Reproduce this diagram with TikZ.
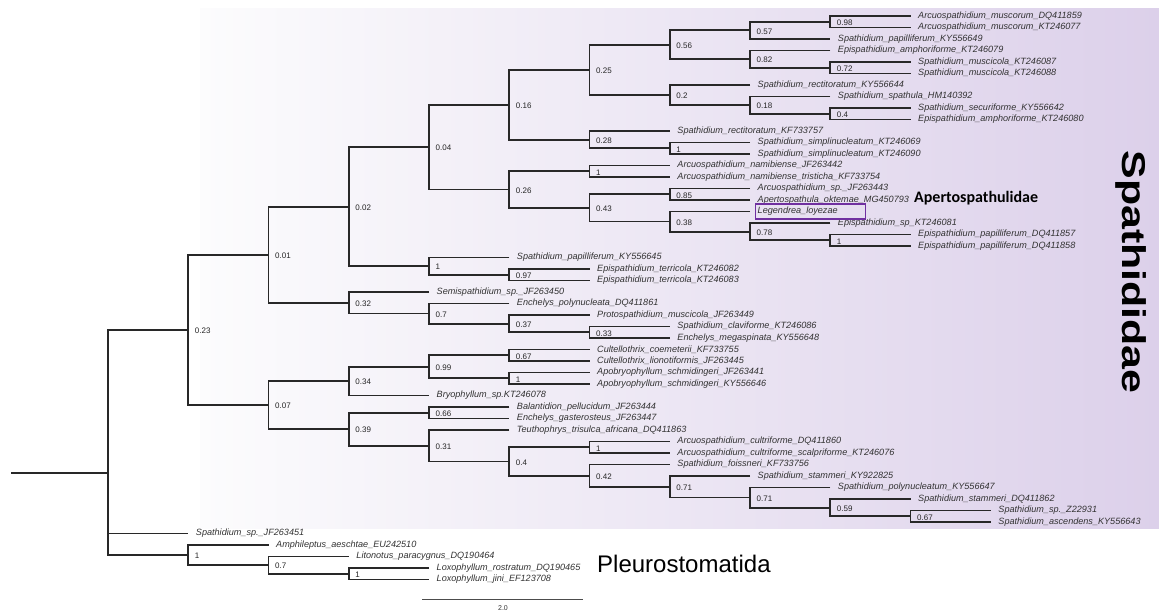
\documentclass[tikz,border=0pt]{standalone}
\usepackage{fontspec}
\usepackage{graphicx}
\setmainfont{Liberation Sans}
\newfontfamily\carlito{Carlito}
\usetikzlibrary{calc}
\definecolor{lav}{RGB}{220,208,234}
\definecolor{bgl}{RGB}{252,252,253}
\definecolor{brc}{RGB}{40,40,40}
\definecolor{txc}{RGB}{50,50,50}
\definecolor{boxc}{RGB}{112,48,160}
\tikzset{
  br/.style={draw=brc, line width=1.8pt},
  leaflab/.style={anchor=west, inner sep=0pt, text=txc, font=\fontsize{9.1}{10}\selectfont\itshape},
  sup/.style={anchor=west, inner sep=0pt, text=black!85, font=\fontsize{8}{9}\selectfont},
}
\newcommand\Lf[4]{%
  \coordinate (#1) at (#2,{16+(#3-1)*11.5});
  \node[leaflab] (#1t) at ([xshift=7.5pt]#1) {#4};}
\newcommand\In[5]{%
  \path let \p1=(#3), \p2=(#4) in coordinate (#1) at (#2pt,{0.5*\y1+0.5*\y2});
  \node[sup] (#1s) at ([xshift=6.5pt,yshift=-1pt]#1) {#5};
  \draw[br] (#3) -| (#1) |- (#4);}
\begin{document}
\begin{tikzpicture}[x=1pt,y=-1pt]
\useasboundingbox (0,0) rectangle (1159,613);
\shade[left color=bgl, right color=lav] (200,8) rectangle (1159,528);
% leaves
\Lf{l1}{910.5}{1}{Arcuospathidium\_muscorum\_DQ411859}
\Lf{l2}{910.5}{2}{Arcuospathidium\_muscorum\_KT246077}
\Lf{l3}{830.25}{3}{Spathidium\_papilliferum\_KY556649}
\Lf{l4}{830.25}{4}{Epispathidium\_amphoriforme\_KT246079}
\Lf{l5}{910.5}{5}{Spathidium\_muscicola\_KT246087}
\Lf{l6}{910.5}{6}{Spathidium\_muscicola\_KT246088}
\Lf{l7}{750}{7}{Spathidium\_rectitoratum\_KY556644}
\Lf{l8}{830.25}{8}{Spathidium\_spathula\_HM140392}
\Lf{l9}{910.5}{9}{Spathidium\_securiforme\_KY556642}
\Lf{l10}{910.5}{10}{Epispathidium\_amphoriforme\_KT246080}
\Lf{l11}{669.75}{11}{Spathidium\_rectitoratum\_KF733757}
\Lf{l12}{750}{12}{Spathidium\_simplinucleatum\_KT246069}
\Lf{l13}{750}{13}{Spathidium\_simplinucleatum\_KT246090}
\Lf{l14}{669.75}{14}{Arcuospathidium\_namibiense\_JF263442}
\Lf{l15}{669.75}{15}{Arcuospathidium\_namibiense\_tristicha\_KF733754}
\Lf{l16}{750}{16}{Arcuospathidium\_sp.\_JF263443}
\Lf{l17}{750}{17}{Apertospathula\_oktemae\_MG450793}
\Lf{l18}{750}{18}{Legendrea\_loyezae}
\Lf{l19}{830.25}{19}{Epispathidium\_sp\_KT246081}
\Lf{l20}{910.5}{20}{Epispathidium\_papilliferum\_DQ411857}
\Lf{l21}{910.5}{21}{Epispathidium\_papilliferum\_DQ411858}
\Lf{l22}{509.25}{22}{Spathidium\_papilliferum\_KY556645}
\Lf{l23}{589.5}{23}{Epispathidium\_terricola\_KT246082}
\Lf{l24}{589.5}{24}{Epispathidium\_terricola\_KT246083}
\Lf{l25}{429}{25}{Semispathidium\_sp.\_JF263450}
\Lf{l26}{509.25}{26}{Enchelys\_polynucleata\_DQ411861}
\Lf{l27}{589.5}{27}{Protospathidium\_muscicola\_JF263449}
\Lf{l28}{669.75}{28}{Spathidium\_claviforme\_KT246086}
\Lf{l29}{669.75}{29}{Enchelys\_megaspinata\_KY556648}
\Lf{l30}{589.5}{30}{Cultellothrix\_coemeterii\_KF733755}
\Lf{l31}{589.5}{31}{Cultellothrix\_lionotiformis\_JF263445}
\Lf{l32}{589.5}{32}{Apobryophyllum\_schmidingeri\_JF263441}
\Lf{l33}{589.5}{33}{Apobryophyllum\_schmidingeri\_KY556646}
\Lf{l34}{429}{34}{Bryophyllum\_sp.KT246078}
\Lf{l35}{509.25}{35}{Balantidion\_pellucidum\_JF263444}
\Lf{l36}{509.25}{36}{Enchelys\_gasterosteus\_JF263447}
\Lf{l37}{509.25}{37}{Teuthophrys\_trisulca\_africana\_DQ411863}
\Lf{l38}{669.75}{38}{Arcuospathidium\_cultriforme\_DQ411860}
\Lf{l39}{669.75}{39}{Arcuospathidium\_cultriforme\_scalpriforme\_KT246076}
\Lf{l40}{669.75}{40}{Spathidium\_foissneri\_KF733756}
\Lf{l41}{750}{41}{Spathidium\_stammeri\_KY922825}
\Lf{l42}{830.25}{42}{Spathidium\_polynucleatum\_KY556647}
\Lf{l43}{910.5}{43}{Spathidium\_stammeri\_DQ411862}
\Lf{l44}{990.75}{44}{Spathidium\_sp.\_Z22931}
\Lf{l45}{990.75}{45}{Spathidium\_ascendens\_KY556643}
\Lf{l46}{188.25}{46}{Spathidium\_sp.\_JF263451}
\Lf{l47}{268.5}{47}{Amphileptus\_aeschtae\_EU242510}
\Lf{l48}{348.75}{48}{Litonotus\_paracygnus\_DQ190464}
\Lf{l49}{429}{49}{Loxophyllum\_rostratum\_DQ190465}
\Lf{l50}{429}{50}{Loxophyllum\_jini\_EF123708}
% internal nodes
\In{R}{830.25}{l1}{l2}{0.98}
\In{O}{750}{R}{l3}{0.57}
\In{S}{830.25}{l5}{l6}{0.72}
\In{Q}{750}{l4}{S}{0.82}
\In{M}{669.75}{O}{Q}{0.56}
\In{U}{830.25}{l9}{l10}{0.4}
\In{T}{750}{l8}{U}{0.18}
\In{N}{669.75}{l7}{T}{0.2}
\In{J}{589.5}{M}{N}{0.25}
\In{V}{669.75}{l12}{l13}{1}
\In{K}{589.5}{l11}{V}{0.28}
\In{H}{509.25}{J}{K}{0.16}
\In{W}{589.5}{l14}{l15}{1}
\In{Y}{669.75}{l16}{l17}{0.85}
\In{AB}{830.25}{l20}{l21}{1}
\In{AA}{750}{l19}{AB}{0.78}
\In{Z}{669.75}{l18}{AA}{0.38}
\In{X}{589.5}{Y}{Z}{0.43}
\In{I}{509.25}{W}{X}{0.26}
\In{F}{429}{H}{I}{0.04}
\In{AC}{509.25}{l23}{l24}{0.97}
\In{G}{429}{l22}{AC}{1}
\In{D}{348.75}{F}{G}{0.02}
\In{AF}{589.5}{l28}{l29}{0.33}
\In{AE}{509.25}{l27}{AF}{0.37}
\In{AD}{429}{l26}{AE}{0.7}
\In{E}{348.75}{l25}{AD}{0.32}
\In{B}{268.5}{D}{E}{0.01}
\In{AJ}{509.25}{l30}{l31}{0.67}
\In{AK}{509.25}{l32}{l33}{1}
\In{AI}{429}{AJ}{AK}{0.99}
\In{AG}{348.75}{AI}{l34}{0.34}
\In{AL}{429}{l35}{l36}{0.66}
\In{AT}{910.5}{l44}{l45}{0.67}
\In{AS}{830.25}{l43}{AT}{0.59}
\In{AR}{750}{l42}{AS}{0.71}
\In{AQ}{669.75}{l41}{AR}{0.71}
\In{AP}{589.5}{l40}{AQ}{0.42}
\In{AO}{589.5}{l38}{l39}{1}
\In{AN}{509.25}{AO}{AP}{0.4}
\In{AM}{429}{l37}{AN}{0.31}
\In{AH}{348.75}{AL}{AM}{0.39}
\In{C}{268.5}{AG}{AH}{0.07}
\In{A}{188.25}{B}{C}{0.23}
\In{AV}{348.75}{l49}{l50}{1}
\In{AU}{268.5}{l48}{AV}{0.7}
\In{P}{188.25}{l47}{AU}{1}
% root
\path let \p1=(A), \p2=(l46), \p3=(P) in coordinate (root) at (108pt,{(\y1+\y2+\y3)/3});
\path let \p1=(root) in coordinate (r0) at (11pt,\y1);
\draw[br] (r0) -- (root);
\draw[br] (A) -| (root) |- (P);
\draw[br] (root) |- (l46);
% highlight box
\node[draw=boxc, line width=1.6pt, minimum width=110pt, minimum height=14.5pt, anchor=west, inner sep=0pt] (lbox) at ([xshift=-3pt]l18t.west) {};
% group labels
\node[anchor=west, inner sep=0pt, font=\carlito\bfseries\fontsize{16}{18}\selectfont] (apt) at (914,198) {Apertospathulidae};
\node[rotate=-90, inner sep=0pt, font=\bfseries\fontsize{33}{36}\selectfont] (spa) at (1131,272) {\scalebox{1.3}[1]{Spathididae}};
\node[anchor=west, inner sep=0pt, font=\fontsize{24}{28}\selectfont] (ple) at (597,564) {Pleurostomatida};
% scale bar
\coordinate (sb1) at (422,599);
\coordinate (sb2) at (583,599);
\draw[draw=black!70, line width=0.9pt] (sb1) -- (sb2);
\node[inner sep=0pt, font=\fontsize{7}{8}\selectfont, text=black!80] (sbl) at (503,608) {2.0};
\end{tikzpicture}
\end{document}
